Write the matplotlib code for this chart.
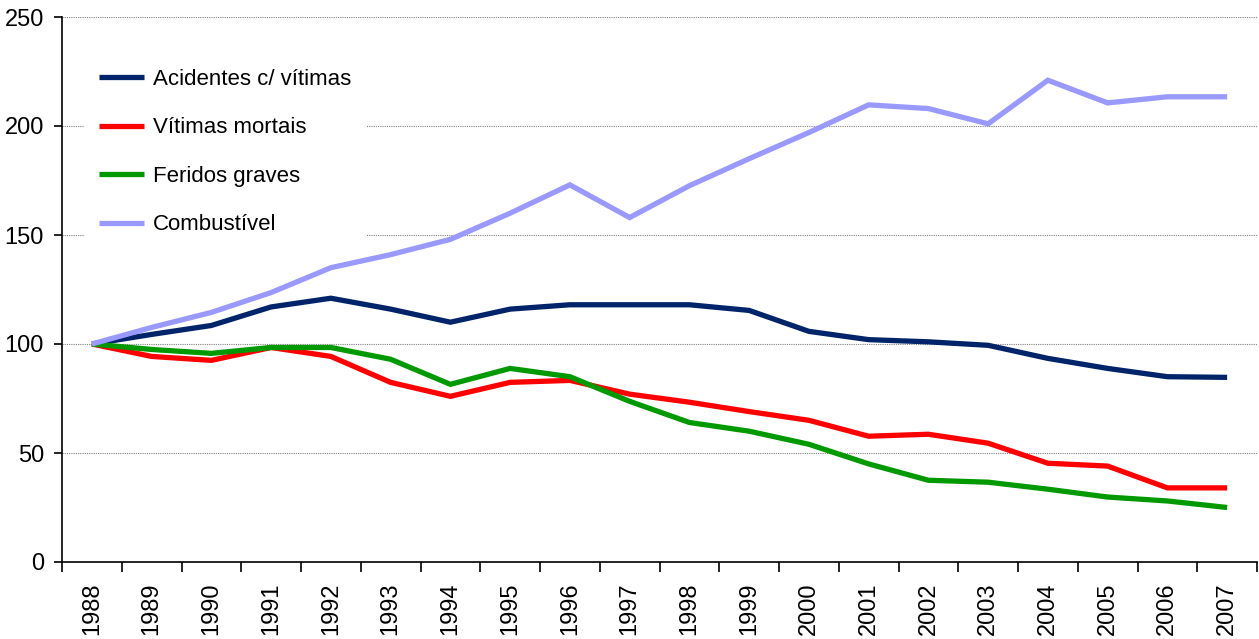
import matplotlib
matplotlib.use("Agg")
import matplotlib.pyplot as plt
import numpy as np

plt.rcParams['font.family'] = ['Liberation Sans', 'DejaVu Sans']

years = [str(y) for y in range(1988, 2008)]
acidentes = [100, 104.4, 108.5, 117, 121, 116, 110, 116, 118, 118, 118, 115.4,
             105.8, 102, 101, 99.4, 93.4, 88.8, 85, 84.7]
mortais = [100, 94.3, 92.5, 98.4, 94.3, 82.4, 76, 82.4, 83.3, 77, 73.3, 69,
           65, 57.7, 58.6, 54.5, 45.3, 44, 34, 34]
feridos = [100, 97.5, 95.7, 98.4, 98.4, 93, 81.5, 88.8, 85, 73.7, 64, 60,
           54, 45, 37.5, 36.6, 33.4, 29.8, 28, 25]
combustivel = [100, 107.6, 114.5, 123.6, 135, 141, 148, 160, 173, 158, 172.6, 185,
               197, 209.7, 208, 201, 221, 210.6, 213.4, 213.4]

labels = ["Acidentes c/ vítimas", "Vítimas mortais", "Feridos graves", "Combustível"]
colors = ["#002469", "#FF0000", "#009900", "#9999FF"]
yticks = [0, 50, 100, 150, 200, 250]

W, H = 1259, 639
fig = plt.figure(figsize=(W / 100, H / 100), dpi=100)
ax = fig.add_axes([62 / W, 1 - 562 / H, (1257 - 62) / W, (562 - 17) / H])

x = np.arange(len(years))
for series, lab, c in zip([acidentes, mortais, feridos, combustivel], labels, colors):
    ax.plot(x, series, color=c, lw=3.8, label=lab, solid_capstyle='butt', solid_joinstyle='miter')

ax.set_xlim(-0.5, len(years) - 0.5)
ax.set_ylim(0, 250)
ax.set_yticks(yticks)
ax.set_yticklabels([str(v) for v in yticks], fontsize=17)
ax.set_xticks(x)
ax.set_xticklabels(years, rotation=90, fontsize=17)
ax.tick_params(axis='x', which='major', length=0, pad=15)
ax.set_xticks(np.arange(-0.5, len(years), 1), minor=True)
ax.tick_params(axis='x', which='minor', length=7, width=1.2, direction='out')
ax.tick_params(axis='y', length=6, width=1.2, direction='out', pad=7)

for s in ['top', 'right']:
    ax.spines[s].set_visible(False)
for s in ['left', 'bottom']:
    ax.spines[s].set_linewidth(1.2)

ax.yaxis.grid(True, linestyle=(0, (1, 1)), color='#808080', linewidth=0.8)
ax.set_axisbelow(True)

leg = ax.legend(loc='upper left', bbox_to_anchor=(0.009, 0.954), fontsize=16,
                frameon=True, facecolor='white', edgecolor='none', framealpha=1,
                fancybox=False, handlelength=2.0, handletextpad=0.42, labelspacing=1.24,
                borderpad=0.7)

fig.savefig("out.png", dpi=100)
